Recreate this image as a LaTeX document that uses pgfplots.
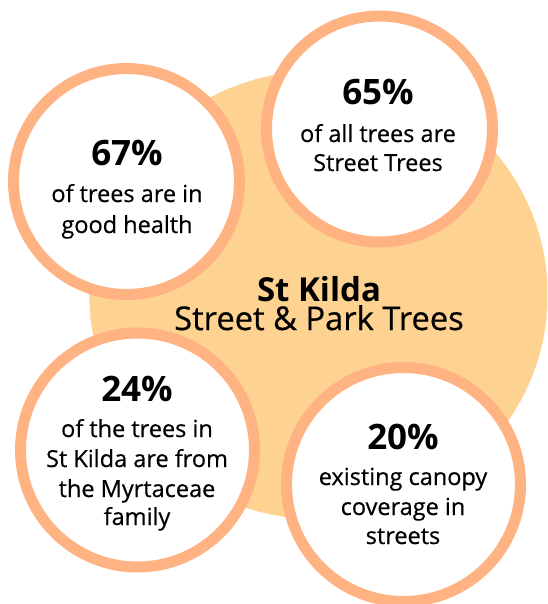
\documentclass[border=0pt]{standalone}
\usepackage{fontspec}
\setmainfont{Open Sans}
\usepackage{pgfplots}
\pgfplotsset{compat=1.18}

\definecolor{ringc}{HTML}{FFB282}
\definecolor{bigc}{HTML}{FED290}

\newfontfamily\bodyfont[FakeBold=0.5]{Open Sans}
\newcommand{\pct}[1]{\fontsize{35}{40}\selectfont\bfseries #1}
\newcommand{\txt}[1]{\bodyfont\fontsize{23.5}{30}\selectfont #1}
\tikzset{lbl/.style={anchor=base, inner sep=0pt}}

\begin{document}
\begin{tikzpicture}
\begin{axis}[
    scale only axis,
    width=547pt, height=604pt,
    xmin=0, xmax=547, ymin=0, ymax=604,
    y dir=reverse,
    hide axis,
    clip=true,
    clip marker paths=true,
]
% background disc
\addplot[only marks, mark=*, mark size=224pt, color=bigc,
    mark options={xscale=1.022, draw=bigc, fill=bigc}]
    coordinates {(318.5,295)};
% stat rings
\addplot[only marks, mark=*, mark size=113pt, color=ringc,
    mark options={draw=ringc, line width=11pt, fill=white}]
    coordinates {(126.5,181.5) (379.5,129)};
\addplot[only marks, mark=*, mark size=117pt, color=ringc,
    mark options={draw=ringc, line width=11pt, fill=white}]
    coordinates {(137.5,450) (403.5,484.5)};

% centre title
\node[lbl] at (axis cs:319,301) {\fontsize{33}{40}\selectfont\bfseries St Kilda};
\node[lbl] at (axis cs:319,330) {\bodyfont\fontsize{32.7}{40}\selectfont Street \& Park Trees};

% left
\node[lbl] at (axis cs:127,165) {\pct{67\%}};
\node[lbl] at (axis cs:127,202) {\txt{of trees are in}};
\node[lbl] at (axis cs:127,233) {\txt{good health}};
% top right
\node[lbl] at (axis cs:378,105) {\pct{65\%}};
\node[lbl] at (axis cs:378,142) {\txt{of all trees are}};
\node[lbl] at (axis cs:378,171) {\txt{Street Trees}};
% bottom left
\node[lbl] at (axis cs:137,401) {\pct{24\%}};
\node[lbl] at (axis cs:137,437) {\txt{of the trees in}};
\node[lbl] at (axis cs:137,467) {\txt{St Kilda are from}};
\node[lbl] at (axis cs:137,497) {\txt{the Myrtaceae}};
\node[lbl] at (axis cs:137,525) {\txt{family}};
% bottom right
\node[lbl] at (axis cs:403,449) {\pct{20\%}};
\node[lbl] at (axis cs:403,485) {\txt{existing canopy}};
\node[lbl] at (axis cs:403,515) {\txt{coverage in}};
\node[lbl] at (axis cs:403,544) {\txt{streets}};

\coordinate (sw) at (rel axis cs:0,1);
\coordinate (ne) at (rel axis cs:1,0);
\end{axis}
\pgfresetboundingbox
\useasboundingbox (sw) rectangle (ne);
\end{tikzpicture}
\end{document}
